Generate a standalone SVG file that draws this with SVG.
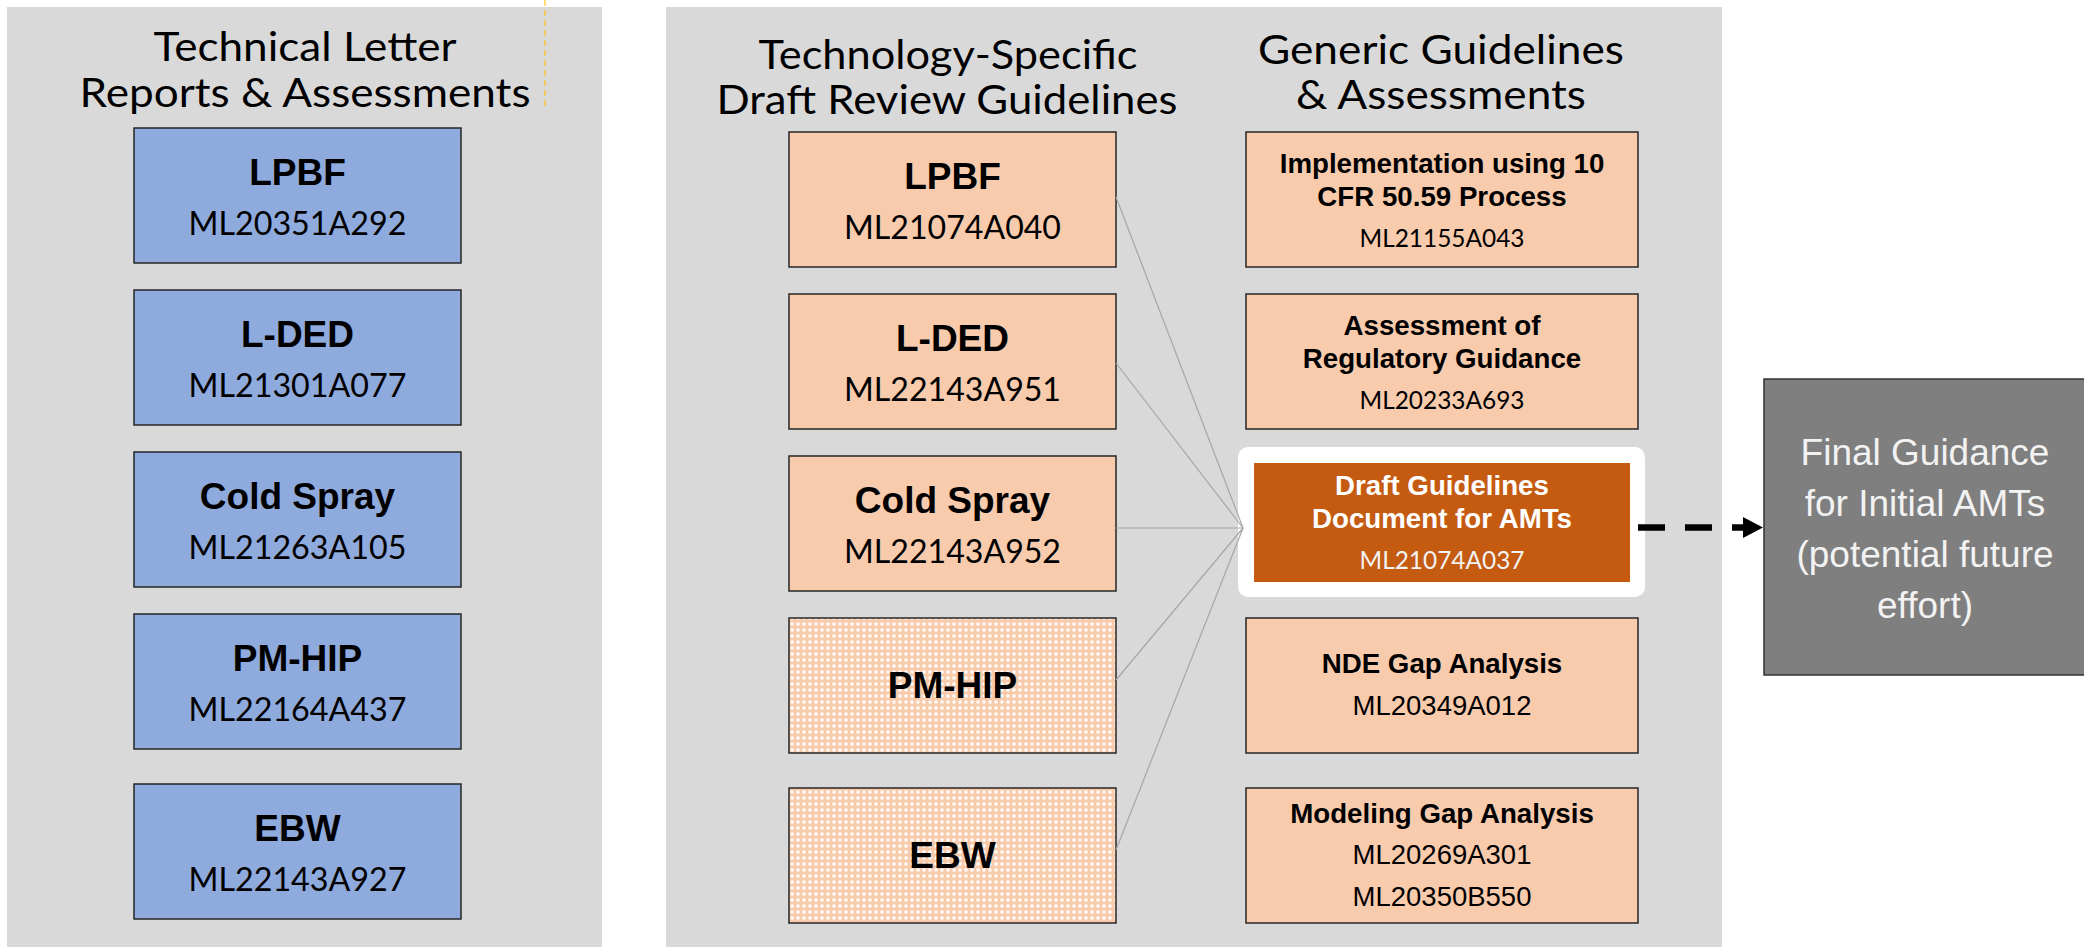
<svg xmlns="http://www.w3.org/2000/svg" width="2084" height="947" viewBox="0 0 2084 947">
<style>
.bg{fill:#FFFFFF}
.panel{fill:#D9D9D9}
.box{stroke:#262626;stroke-width:1.5}
.blue{fill:#8FAADC}
.peach{fill:#F8CBAD}
.chk{fill:url(#chk)}
.ttl{font-family:Lato,"Open Sans",sans-serif;font-size:41px;text-anchor:middle;fill:#000}
.lbl{font-family:"Liberation Sans",Arial,sans-serif;font-weight:bold;font-size:37px;text-anchor:middle;fill:#000}
.ml{font-family:Lato,"Open Sans",sans-serif;font-size:33px;text-anchor:middle;fill:#000}
.rl{font-family:"Liberation Sans",Arial,sans-serif;font-weight:bold;font-size:27.7px;text-anchor:middle;fill:#000}
.rml{font-family:Lato,"Open Sans",sans-serif;font-size:25.5px;text-anchor:middle;fill:#000}
.arl{font-family:"Liberation Sans",Arial,sans-serif;font-size:27.5px;text-anchor:middle;fill:#000}
.wht{fill:#FFFFFF}
.fin{font-family:"Liberation Sans",Arial,sans-serif;font-size:37px;text-anchor:middle;fill:#F2F2F2}
.conn{stroke:#A6A6A6;stroke-width:1.2;fill:none}
.dash{stroke:#000;stroke-width:6.7;stroke-dasharray:27 20;fill:none}
.yel{stroke:#FFC000;stroke-width:1.5;stroke-dasharray:6 4;opacity:0.7}
</style>
<defs>
<pattern id="chk" width="6" height="6" patternUnits="userSpaceOnUse">
<rect width="6" height="6" fill="#FFFFFF"/>
<rect x="1.5" y="0" width="3" height="6" fill="#F8CBAD"/>
<rect x="0" y="1.5" width="6" height="3" fill="#F8CBAD"/>
</pattern>
<marker id="ah" markerUnits="userSpaceOnUse" markerWidth="20" markerHeight="21" refX="0" refY="10.5" orient="auto">
<path d="M0,0 L20,10.5 L0,21 Z" fill="#000"/>
</marker>
</defs>
<rect class="bg" x="0" y="0" width="2084" height="947"/>

<g id="panel-left">
<rect class="panel" x="7" y="7" width="595" height="945"/>
<text class="ttl" x="305" y="61" textLength="303" lengthAdjust="spacingAndGlyphs">Technical Letter</text>
<text class="ttl" x="305" y="107" textLength="451" lengthAdjust="spacingAndGlyphs">Reports &amp; Assessments</text>
</g>
<line class="yel" x1="545" y1="0" x2="545" y2="108"/>

<g id="panel-mid">
<rect class="panel" x="666" y="7" width="1056" height="945"/>
<text class="ttl" x="948" y="69" textLength="379" lengthAdjust="spacingAndGlyphs">Technology-Specific</text>
<text class="ttl" x="947" y="114" textLength="461" lengthAdjust="spacingAndGlyphs">Draft Review Guidelines</text>
<text class="ttl" x="1441" y="64" textLength="366" lengthAdjust="spacingAndGlyphs">Generic Guidelines</text>
<text class="ttl" x="1441" y="109" textLength="290" lengthAdjust="spacingAndGlyphs">&amp; Assessments</text>
</g>

<g id="tl-lpbf">
<rect class="box blue" x="134" y="128" width="327" height="135"/>
<text class="lbl" x="297.5" y="185">LPBF</text>
<text class="ml" x="297.5" y="235" textLength="218" lengthAdjust="spacingAndGlyphs">ML20351A292</text>
</g>
<g id="tl-lded">
<rect class="box blue" x="134" y="290" width="327" height="135"/>
<text class="lbl" x="297.5" y="347">L-DED</text>
<text class="ml" x="297.5" y="397" textLength="218" lengthAdjust="spacingAndGlyphs">ML21301A077</text>
</g>
<g id="tl-cold">
<rect class="box blue" x="134" y="452" width="327" height="135"/>
<text class="lbl" x="297.5" y="509">Cold Spray</text>
<text class="ml" x="297.5" y="559" textLength="218" lengthAdjust="spacingAndGlyphs">ML21263A105</text>
</g>
<g id="tl-pmhip">
<rect class="box blue" x="134" y="614" width="327" height="135"/>
<text class="lbl" x="297.5" y="671">PM-HIP</text>
<text class="ml" x="297.5" y="721" textLength="218" lengthAdjust="spacingAndGlyphs">ML22164A437</text>
</g>
<g id="tl-ebw">
<rect class="box blue" x="134" y="784" width="327" height="135"/>
<text class="lbl" x="297.5" y="841">EBW</text>
<text class="ml" x="297.5" y="891" textLength="218" lengthAdjust="spacingAndGlyphs">ML22143A927</text>
</g>

<g id="ts-lpbf">
<rect class="box peach" x="789" y="132" width="327" height="135"/>
<text class="lbl" x="952.5" y="189">LPBF</text>
<text class="ml" x="952.5" y="239" textLength="217" lengthAdjust="spacingAndGlyphs">ML21074A040</text>
</g>
<g id="ts-lded">
<rect class="box peach" x="789" y="294" width="327" height="135"/>
<text class="lbl" x="952.5" y="351">L-DED</text>
<text class="ml" x="952.5" y="401" textLength="217" lengthAdjust="spacingAndGlyphs">ML22143A951</text>
</g>
<g id="ts-cold">
<rect class="box peach" x="789" y="456" width="327" height="135"/>
<text class="lbl" x="952.5" y="513">Cold Spray</text>
<text class="ml" x="952.5" y="563" textLength="217" lengthAdjust="spacingAndGlyphs">ML22143A952</text>
</g>
<g id="ts-pmhip">
<rect class="box chk" x="789" y="618" width="327" height="135"/>
<text class="lbl" x="952.5" y="698">PM-HIP</text>
</g>
<g id="ts-ebw">
<rect class="box chk" x="789" y="788" width="327" height="135"/>
<text class="lbl" x="952.5" y="868">EBW</text>
</g>

<g id="gg-impl">
<rect class="box peach" x="1246" y="132" width="392" height="135"/>
<text class="rl" x="1442" y="172.5">Implementation using 10</text>
<text class="rl" x="1442" y="205.5">CFR 50.59 Process</text>
<text class="rml" x="1442" y="246.5" textLength="165" lengthAdjust="spacingAndGlyphs">ML21155A043</text>
</g>
<g id="gg-assess">
<rect class="box peach" x="1246" y="294" width="392" height="135"/>
<text class="rl" x="1442" y="334.5">Assessment of</text>
<text class="rl" x="1442" y="367.5">Regulatory Guidance</text>
<text class="rml" x="1442" y="408.5" textLength="165" lengthAdjust="spacingAndGlyphs">ML20233A693</text>
</g>
<g id="gg-draft">
<rect fill="#FFFFFF" x="1238" y="447" width="407" height="150" rx="10"/>
<rect fill="#C55A11" x="1254" y="463" width="376" height="119"/>
<text class="rl wht" x="1442" y="495">Draft Guidelines</text>
<text class="rl wht" x="1442" y="528">Document for AMTs</text>
<text class="rml" x="1442" y="569" style="fill:#F2F2F2" textLength="165" lengthAdjust="spacingAndGlyphs">ML21074A037</text>
</g>
<g id="gg-nde">
<rect class="box peach" x="1246" y="618" width="392" height="135"/>
<text class="rl" x="1442" y="673">NDE Gap Analysis</text>
<text class="arl" x="1442" y="715">ML20349A012</text>
</g>
<g id="gg-model">
<rect class="box peach" x="1246" y="788" width="392" height="135"/>
<text class="rl" x="1442" y="823">Modeling Gap Analysis</text>
<text class="arl" x="1442" y="864">ML20269A301</text>
<text class="arl" x="1442" y="906">ML20350B550</text>
</g>

<g id="final">
<rect x="1764" y="379" width="322" height="296" fill="#7F7F7F" stroke="#333333" stroke-width="1.5"/>
<text class="fin" x="1925" y="465">Final Guidance</text>
<text class="fin" x="1925" y="516">for Initial AMTs</text>
<text class="fin" x="1925" y="567">(potential future</text>
<text class="fin" x="1925" y="618">effort)</text>
</g>

<g id="connectors">
<line class="conn" x1="1116" y1="197" x2="1243" y2="528"/>
<line class="conn" x1="1116" y1="363" x2="1243" y2="528"/>
<line class="conn" x1="1116" y1="528" x2="1243" y2="528"/>
<line class="conn" x1="1116" y1="680" x2="1243" y2="528"/>
<line class="conn" x1="1116" y1="850" x2="1243" y2="528"/>
<line class="dash" x1="1638" y1="527.5" x2="1743" y2="527.5" marker-end="url(#ah)"/>
</g>
</svg>
